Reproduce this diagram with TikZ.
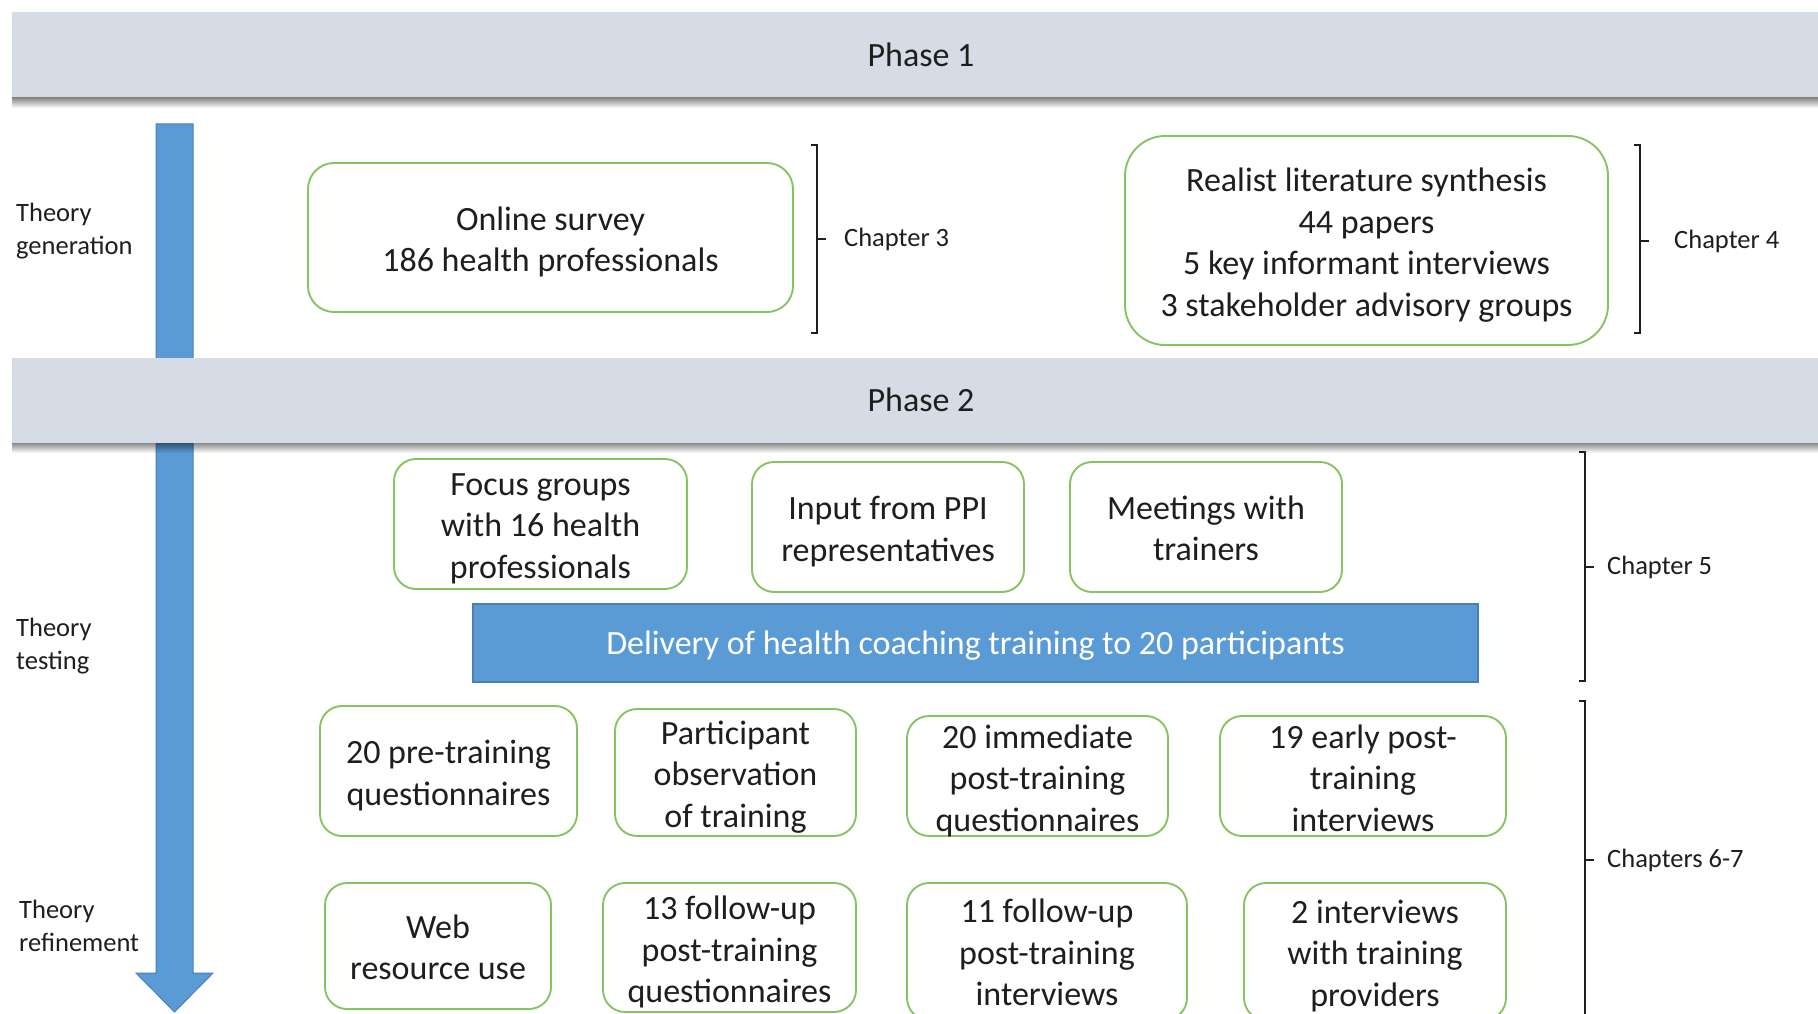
\documentclass[tikz,border=0pt]{standalone}
\usepackage{fontspec}
\setmainfont{Carlito}
\definecolor{bandgray}{HTML}{D6DCE5}
\definecolor{flowblue}{HTML}{5B9BD5}
\definecolor{flowedge}{HTML}{4A7FB5}
\definecolor{boxgreen}{HTML}{86C463}
\definecolor{inkgray}{HTML}{1E1E1E}
\begin{document}
\begin{tikzpicture}[x=1pt,y=-1pt,
  every node/.style={text=inkgray},
  band/.style={fill=bandgray, inner sep=0pt, minimum width=1818pt, minimum height=85pt,
    font=\fontsize{34}{41}\selectfont},
  gbox/.style={draw=boxgreen, line width=1.9pt, rounded corners=22pt, fill=white,
    inner sep=0pt},
  boxtext/.style={align=center, inner sep=0pt, yshift=-4.5pt,
    font=\fontsize{34}{41.5}\selectfont},
  delivbar/.style={draw=flowedge, line width=1.5pt, fill=flowblue, inner sep=0pt,
    font=\fontsize{34}{41}\selectfont, text=white, text depth=0pt},
  sidelabel/.style={anchor=west, align=left, inner sep=0pt,
    font=\fontsize{26.5}{32.5}\selectfont},
  chaplabel/.style={anchor=west, inner sep=0pt, font=\fontsize{26.5}{35}\selectfont},
  bracket/.style={draw=inkgray, line width=1.6pt}
]
\useasboundingbox (0,0) rectangle (1818,1014);
\clip (0,0) rectangle (1818,1014);

% downward flow arrow (runs behind the phase 2 band)
\filldraw[fill=flowblue, draw=flowedge, line width=1pt]
  (156,124) -- (193,124) -- (193,973) -- (213,973) -- (174.5,1012)
  -- (136,973) -- (156,973) -- cycle;

% phase bands with a soft drop shadow underneath
\foreach \y in {97,442}{
  \foreach \i in {0,...,10}{
    \pgfmathsetmacro\op{0.5*(1-\i/11)}
    \fill[black, opacity=\op] (12,\y+\i) rectangle (1830,\y+\i+1);
  }
}
\node[band] (phase1) at (921,54.5) {Phase 1};
\node[band] (phase2) at (921,400) {Phase 2};

% side labels
\node[sidelabel] (gen) at (16,231) {Theory\\generation};
\node[sidelabel] (test) at (16,646) {Theory\\testing};
\node[sidelabel] (refine) at (19,926) {Theory\\refinement};

% phase 1 activities
\node[gbox, rounded corners=26pt, minimum width=485pt, minimum height=149pt,
  label={[boxtext]center:{Online survey\\186 health professionals}}] (survey)
  at (550.5,237.5) {};
\node[gbox, rounded corners=40pt, minimum width=483pt, minimum height=209pt,
  label={[boxtext]center:{Realist literature synthesis\\44 papers\\5 key informant interviews\\3 stakeholder advisory groups}}] (realist)
  at (1366.5,240.5) {};

% phase 2 activities
\node[gbox, minimum width=293pt, minimum height=130pt,
  label={[boxtext]center:{Focus groups\\with 16 health\\professionals}}] (focus)
  at (540.5,524) {};
\node[gbox, minimum width=272pt, minimum height=130pt,
  label={[boxtext]center:{Input from PPI\\representatives}}] (ppi)
  at (888,527) {};
\node[gbox, minimum width=272pt, minimum height=130pt,
  label={[boxtext, yshift=3pt]center:{Meetings with\\trainers}}] (meet)
  at (1206,527) {};
\node[delivbar, minimum width=1005pt, minimum height=78pt] (deliv)
  at (975.5,643) {Delivery of health coaching training to 20 participants};

\node[gbox, minimum width=257pt, minimum height=130pt,
  label={[boxtext]center:{20 pre-training\\questionnaires}}] (pre)
  at (448.5,771) {};
\node[gbox, minimum width=241pt, minimum height=127pt,
  label={[boxtext]center:{Participant\\observation\\of training}}] (observe)
  at (735.5,772.5) {};
\node[gbox, minimum width=261pt, minimum height=120pt,
  label={[boxtext]center:{20 immediate\\post-training\\questionnaires}}] (immediate)
  at (1037.5,776) {};
\node[gbox, minimum width=286pt, minimum height=120pt,
  label={[boxtext, yshift=2.5pt]center:{19 early post-\\training\\interviews}}] (early)
  at (1363,776) {};

\node[gbox, minimum width=226pt, minimum height=126pt,
  label={[boxtext, yshift=3pt]center:{Web\\resource use}}] (web)
  at (438,946) {};
\node[gbox, minimum width=253pt, minimum height=129pt,
  label={[boxtext]center:{13 follow-up\\post-training\\questionnaires}}] (followq)
  at (729.5,947.5) {};
\node[gbox, minimum width=280pt, minimum height=137pt,
  label={[boxtext, yshift=3.5pt]center:{11 follow-up\\post-training\\interviews}}] (followi)
  at (1047,951.5) {};
\node[gbox, minimum width=262pt, minimum height=137pt,
  label={[boxtext]center:{2 interviews\\with training\\providers}}] (providers)
  at (1375,951.5) {};

% chapter brackets
\node[chaplabel] (ch3) at (844,239) {Chapter 3};
\draw[bracket] (811,145) -- (817,145) -- (817,333) -- (811,333);
\draw[bracket] (817,239) -- (826,239);

\node[chaplabel] (ch4) at (1674,241) {Chapter 4};
\draw[bracket] (1634,145) -- (1640,145) -- (1640,333) -- (1634,333);
\draw[bracket] (1640,241) -- (1649,241);

\node[chaplabel] (ch5) at (1607,567) {Chapter 5};
\draw[bracket] (1579,452) -- (1585,452) -- (1585,681) -- (1579,681);
\draw[bracket] (1585,567) -- (1594,567);

\node[chaplabel] (ch67) at (1607,860) {Chapters 6-7};
\draw[bracket] (1579,701) -- (1585,701) -- (1585,1030);
\draw[bracket] (1585,860) -- (1594,860);
\end{tikzpicture}
\end{document}
